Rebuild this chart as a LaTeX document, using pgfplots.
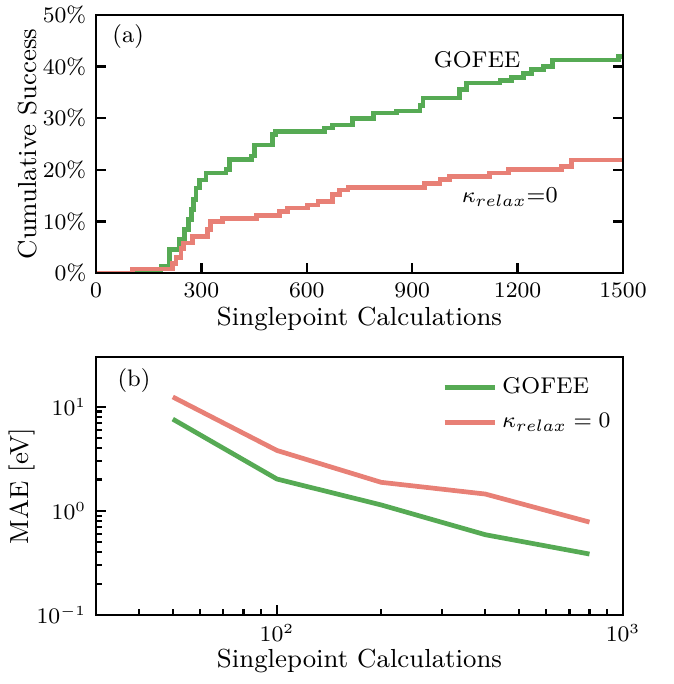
\documentclass[border=0pt]{standalone}
\usepackage{pgfplots}
\pgfplotsset{compat=1.18}
\definecolor{cgreen}{RGB}{86,170,84}
\definecolor{cred}{RGB}{232,128,118}
\begin{document}
\begin{tikzpicture}
\pgfplotsset{
  every axis/.append style={
    scale only axis, width=189.72pt, height=92.88pt,
    axis line style={line width=0.9pt},
    every tick/.style={black, line width=0.8pt},
    major tick length=3.5pt, minor tick length=2pt,
    tick align=inside,
    tick label style={font=\fontsize{7.6}{9}\selectfont},
    label style={font=\fontsize{9.4}{11}\selectfont},
    /pgf/number format/1000 sep={},
    axis on top,
  },
}
\begin{axis}[
  at={(0,0)}, anchor=north west,
  xmin=0, xmax=1500, ymin=0, ymax=50,
  xtick={0,300,...,1500}, ytick={0,10,...,50},
  xtick pos=left, ytick pos=both, yticklabel pos=left,
  yticklabel={$\pgfmathprintnumber{\tick}\%$},
  xlabel={Singlepoint Calculations},
  ylabel={Cumulative Success},
  xlabel style={at={(axis description cs:0.5,-0.178)}, anchor=center},
  ylabel style={at={(axis description cs:-0.129,0.5)}, anchor=center},
]
\addplot[const plot, cgreen, line width=1.7pt] coordinates {
 (0,0) (185,1.3) (209,4.6) (237,6.6) (252,8.4) (263,10.3) (271,12.3) (278,14.2)
 (285,16.5) (294,18.0) (313,19.4) (370,20.0) (380,22.0) (442,22.7) (451,24.8)
 (503,26.8) (511,27.4) (650,28.1) (674,28.7) (731,30.0) (789,31.0) (855,31.4)
 (922,32.5) (931,33.9) (1034,35.5) (1055,36.8) (1150,37.3) (1183,37.9)
 (1216,38.7) (1240,39.4) (1273,40.0) (1300,41.3) (1487,42.0) (1500,42.0)
};
\addplot[const plot, cred, line width=1.7pt] coordinates {
 (0,0) (104,0.8) (218,1.8) (228,3.0) (242,4.8) (250,5.8) (275,7.1) (318,8.4)
 (325,10.0) (361,10.6) (456,11.2) (522,11.9) (546,12.6) (603,13.2) (632,13.9)
 (674,15.2) (693,16.1) (717,16.6) (936,17.4) (979,18.1) (1007,18.7) (1121,19.4)
 (1174,20.0) (1325,20.7) (1354,21.9) (1500,21.9)
};
\node[font=\fontsize{8.6}{10}\selectfont] at (axis description cs:0.061,0.915) {(a)};
\node[font=\fontsize{8.2}{10}\selectfont] at (axis cs:1085,41.3) {GOFEE};
\node[font=\fontsize{8.2}{10}\selectfont] at (axis cs:1178,14.7) {$\kappa_{relax}$=0};
\end{axis}
\begin{axis}[
  at={(0,-123.12pt)}, anchor=north west,
  xmode=log, ymode=log,
  xmin=30, xmax=1000, ymin=0.1, ymax=30,
  xtick pos=left, ytick pos=left,
  xlabel={Singlepoint Calculations},
  ylabel={MAE [eV]},
  xlabel style={at={(axis description cs:0.5,-0.178)}, anchor=center},
  ylabel style={at={(axis description cs:-0.140,0.5)}, anchor=center},
  legend style={draw=none, fill=none, at={(axis description cs:0.64,0.965)}, anchor=north west,
    font=\fontsize{8.2}{10}\selectfont, row sep=1.5pt},
  legend cell align=left,
  legend image code/.code={\draw[#1, line width=1.7pt] (0pt,0pt) -- (18pt,0pt);},
]
\addplot[cgreen, line width=1.7pt] coordinates {
 (50,7.6) (100,2.02) (200,1.14) (400,0.59) (800,0.385)
};
\addlegendentry{GOFEE}
\addplot[cred, line width=1.7pt] coordinates {
 (50,12.4) (100,3.8) (200,1.88) (400,1.45) (800,0.78)
};
\addlegendentry{$\kappa_{relax}=0$}
\node[font=\fontsize{8.6}{10}\selectfont] at (axis description cs:0.072,0.91) {(b)};
\end{axis}
\pgfresetboundingbox
\useasboundingbox (-34.56pt,5.4pt) rectangle (208.08pt,-240.84pt);
\end{tikzpicture}
\end{document}
